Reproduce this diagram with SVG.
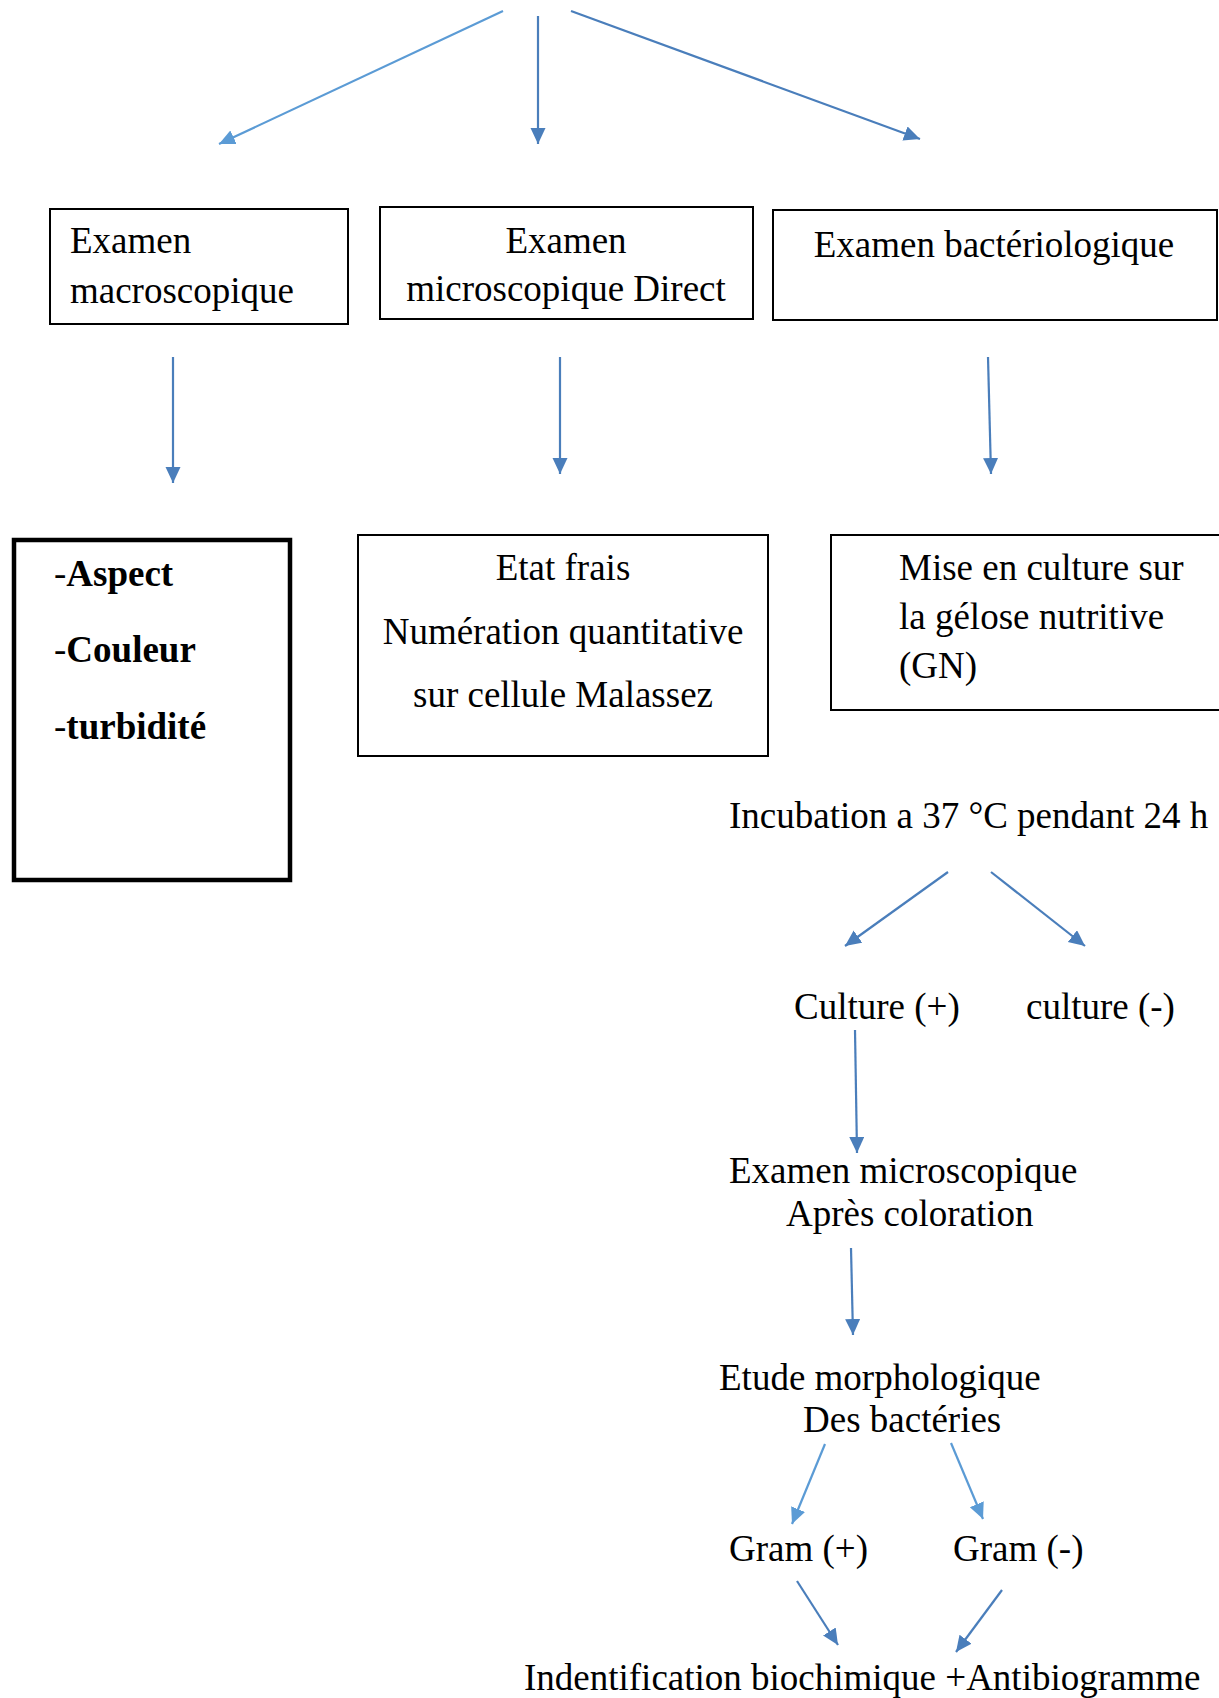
<svg xmlns="http://www.w3.org/2000/svg" width="1219" height="1698" viewBox="0 0 1219 1698">
<style>
text{font-family:"Liberation Serif","Times New Roman",serif;font-size:37px;fill:#000}
.box{fill:#fff;stroke:#000;stroke-width:2}
.thick{fill:#fff;stroke:#000;stroke-width:4.5}
.dk{stroke:#4A7EBB;stroke-width:2.2;fill:none;marker-end:url(#ad)}
.lt{stroke:#5B9BD5;stroke-width:2.2;fill:none;marker-end:url(#al)}
.b{font-weight:bold}
.m{text-anchor:middle}
</style>
<defs>
<marker id="ad" markerUnits="userSpaceOnUse" markerWidth="17" markerHeight="16" refX="16" refY="7.5" orient="auto" viewBox="0 0 17 16">
<path d="M0,0 L16,7.5 L0,15 z" fill="#4A7EBB"/>
</marker>
<marker id="al" markerUnits="userSpaceOnUse" markerWidth="17" markerHeight="16" refX="16" refY="7.5" orient="auto" viewBox="0 0 17 16">
<path d="M0,0 L16,7.5 L0,15 z" fill="#5B9BD5"/>
</marker>
</defs>
<g id="connectors">
<line class="lt" x1="503" y1="11" x2="219" y2="144"/>
<line class="dk" x1="538" y1="16" x2="538" y2="144"/>
<line class="dk" x1="571" y1="11" x2="920" y2="139"/>
<line class="dk" x1="173" y1="357" x2="173" y2="483"/>
<line class="dk" x1="560" y1="357" x2="560" y2="474"/>
<line class="dk" x1="988" y1="357" x2="991" y2="474"/>
<line class="dk" x1="948" y1="872" x2="845" y2="946"/>
<line class="dk" x1="991" y1="872" x2="1085" y2="946"/>
<line class="dk" x1="855" y1="1030" x2="857" y2="1153"/>
<line class="dk" x1="851" y1="1248" x2="853" y2="1335"/>
<line class="lt" x1="825" y1="1444" x2="792" y2="1524"/>
<line class="lt" x1="951" y1="1443" x2="983" y2="1519"/>
<line class="dk" x1="797" y1="1581" x2="838" y2="1645"/>
<line class="dk" x1="1002" y1="1590" x2="956" y2="1652"/>
</g>
<g id="n-macro">
<rect class="box" x="50" y="209" width="298" height="115"/>
<text x="70" y="253">Examen</text>
<text x="70" y="303">macroscopique</text>
</g>
<g id="n-micro">
<rect class="box" x="380" y="207" width="373" height="112"/>
<text class="m" x="566" y="253">Examen</text>
<text class="m" x="566" y="301">microscopique Direct</text>
</g>
<g id="n-bacterio">
<rect class="box" x="773" y="210" width="444" height="110"/>
<text class="m" x="994" y="257">Examen bactériologique</text>
</g>
<g id="n-aspect">
<rect class="thick" x="14" y="540" width="276" height="340"/>
<text x="54" y="586">-<tspan class="b">Aspect</tspan></text>
<text x="54" y="662">-<tspan class="b">Couleur</tspan></text>
<text x="54" y="739">-<tspan class="b">turbidité</tspan></text>
</g>
<g id="n-etat">
<rect class="box" x="358" y="535" width="410" height="221"/>
<text class="m" x="563" y="580">Etat frais</text>
<text class="m" x="563" y="644">Numération quantitative</text>
<text class="m" x="563" y="707">sur cellule Malassez</text>
</g>
<g id="n-culture">
<rect class="box" x="831" y="535" width="420" height="175"/>
<text x="899" y="580">Mise en culture sur</text>
<text x="899" y="629">la gélose nutritive</text>
<text x="899" y="678">(GN)</text>
</g>
<g id="n-incubation">
<text x="729" y="828">Incubation a 37 °C pendant 24 h</text>
</g>
<g id="n-cplus">
<text x="794" y="1019">Culture (+)</text>
</g>
<g id="n-cminus">
<text x="1026" y="1019">culture (-)</text>
</g>
<g id="n-examen-col">
<text x="729" y="1183">Examen microscopique</text>
<text x="786" y="1226">Après coloration</text>
</g>
<g id="n-etude">
<text x="719" y="1390">Etude morphologique</text>
<text x="803" y="1432">Des bactéries</text>
</g>
<g id="n-gplus">
<text x="729" y="1561">Gram (+)</text>
</g>
<g id="n-gminus">
<text x="953" y="1561">Gram (-)</text>
</g>
<g id="n-ident">
<text x="524" y="1690">Indentification biochimique +Antibiogramme</text>
</g>
</svg>
